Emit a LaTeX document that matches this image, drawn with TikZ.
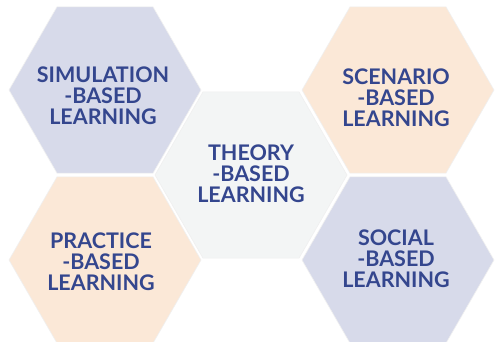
\documentclass[tikz,border=0pt]{standalone}
\usepackage{fontspec}
\setmainfont{Lato}
\usetikzlibrary{shapes.geometric}
\definecolor{lav}{HTML}{D7DAEA}
\definecolor{peach}{HTML}{FBE8D7}
\definecolor{pale}{HTML}{F3F5F5}
\definecolor{ink}{HTML}{34468E}
\tikzset{
  hexa/.style={regular polygon, regular polygon sides=6, minimum size=192pt,
    inner sep=0pt, outer sep=0pt, draw=black!6, line width=0.6pt},
  lbl/.style={align=center, text=ink, inner sep=0pt,
    font=\fontsize{21.5}{21}\selectfont\bfseries}
}
\begin{document}
\begin{tikzpicture}[x=1pt,y=-1pt]
\useasboundingbox[fill=white] (0,0) rectangle (496,342);
\node[hexa, fill=lav]   (sim)   at (105,90)  {};
\node[hexa, fill=peach] (prac)  at (105,260) {};
\node[hexa, fill=pale]  (theo)  at (251,175) {};
\node[hexa, fill=peach] (scen)  at (398,90)  {};
\node[hexa, fill=lav]   (soc)   at (398,260) {};
\node[lbl] (simt)  at (103,96)  {SIMULATION\\-BASED\\LEARNING};
\node[lbl] (pract) at (101,262) {PRACTICE\\-BASED\\LEARNING};
\node[lbl] (theot) at (251,174) {THEORY\\-BASED\\LEARNING};
\node[lbl] (scent) at (396,98)  {SCENARIO\\-BASED\\LEARNING};
\node[lbl] (soct)  at (396,258.5) {SOCIAL\\-BASED\\LEARNING};
\end{tikzpicture}
\end{document}
